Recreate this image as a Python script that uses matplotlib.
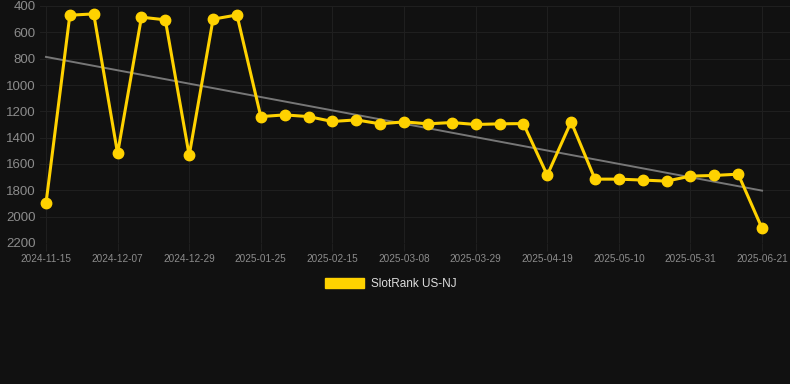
import numpy as np
import matplotlib
matplotlib.use("Agg")
import matplotlib.pyplot as plt
from matplotlib.patches import Patch

plt.rcParams['font.family'] = ['Liberation Sans', 'DejaVu Sans']

# weekly ranks (lower is better, axis inverted)
ranks = [1900, 470, 460, 1520, 485, 505, 1535, 500, 468,
         1240, 1227, 1240, 1277, 1265, 1295, 1280, 1295, 1285, 1300, 1295, 1293,
         1685, 1280, 1715, 1715, 1722, 1730, 1692, 1687, 1677, 2089]
tick_labels = ["2024-11-15", "2024-12-07", "2024-12-29", "2025-01-25", "2025-02-15",
               "2025-03-08", "2025-03-29", "2025-04-19", "2025-05-10", "2025-05-31",
               "2025-06-21"]
y_ticks = [400, 600, 800, 1000, 1200, 1400, 1600, 1800, 2000, 2200]

bg = "#111111"
fig = plt.figure(figsize=(7.9, 3.84), dpi=100, facecolor=bg)
ax = fig.add_axes([40/790, 1-243/384, 750/790, 237/384], facecolor=bg)

x = np.arange(len(ranks))
# trend line (linear fit)
k, b = np.polyfit(x, ranks, 1)
ax.plot([x[0], x[-1]], [k*x[0]+b, k*x[-1]+b], color="#777777", lw=1.4, zorder=2)

ax.plot(x, ranks, color="#FFD200", lw=2.2, marker="o", markersize=7.5,
        markerfacecolor="#FFD200", markeredgecolor="#FFD200", zorder=3)

ax.set_xlim(-0.25, 31.17)
ax.set_ylim(2200, 400)
ax.set_yticks(y_ticks)
ax.set_yticklabels([str(v) for v in y_ticks])
ax.set_xticks(x[::3])
ax.set_xticklabels(tick_labels)

ax.grid(True, color="#1f1f1f", lw=0.8)
ax.set_axisbelow(True)
for s in ax.spines.values():
    s.set_visible(False)
ax.tick_params(axis="y", length=0, pad=3, labelsize=9.5, labelcolor="#8c8c8c")
ax.tick_params(axis="x", length=6, color="#1f1f1f", pad=2, labelsize=7.2, labelcolor="#8c8c8c")

leg = fig.legend(handles=[Patch(facecolor="#FFD200", edgecolor="#FFD200", label="SlotRank US-NJ")],
                 loc="center", bbox_to_anchor=(0.495, 1-284/384), frameon=False,
                 fontsize=8.5, handlelength=3.3, handleheight=1.0, handletextpad=0.6)
for t in leg.get_texts():
    t.set_color("#dddddd")

fig.savefig("out.png", dpi=100, facecolor=bg)
